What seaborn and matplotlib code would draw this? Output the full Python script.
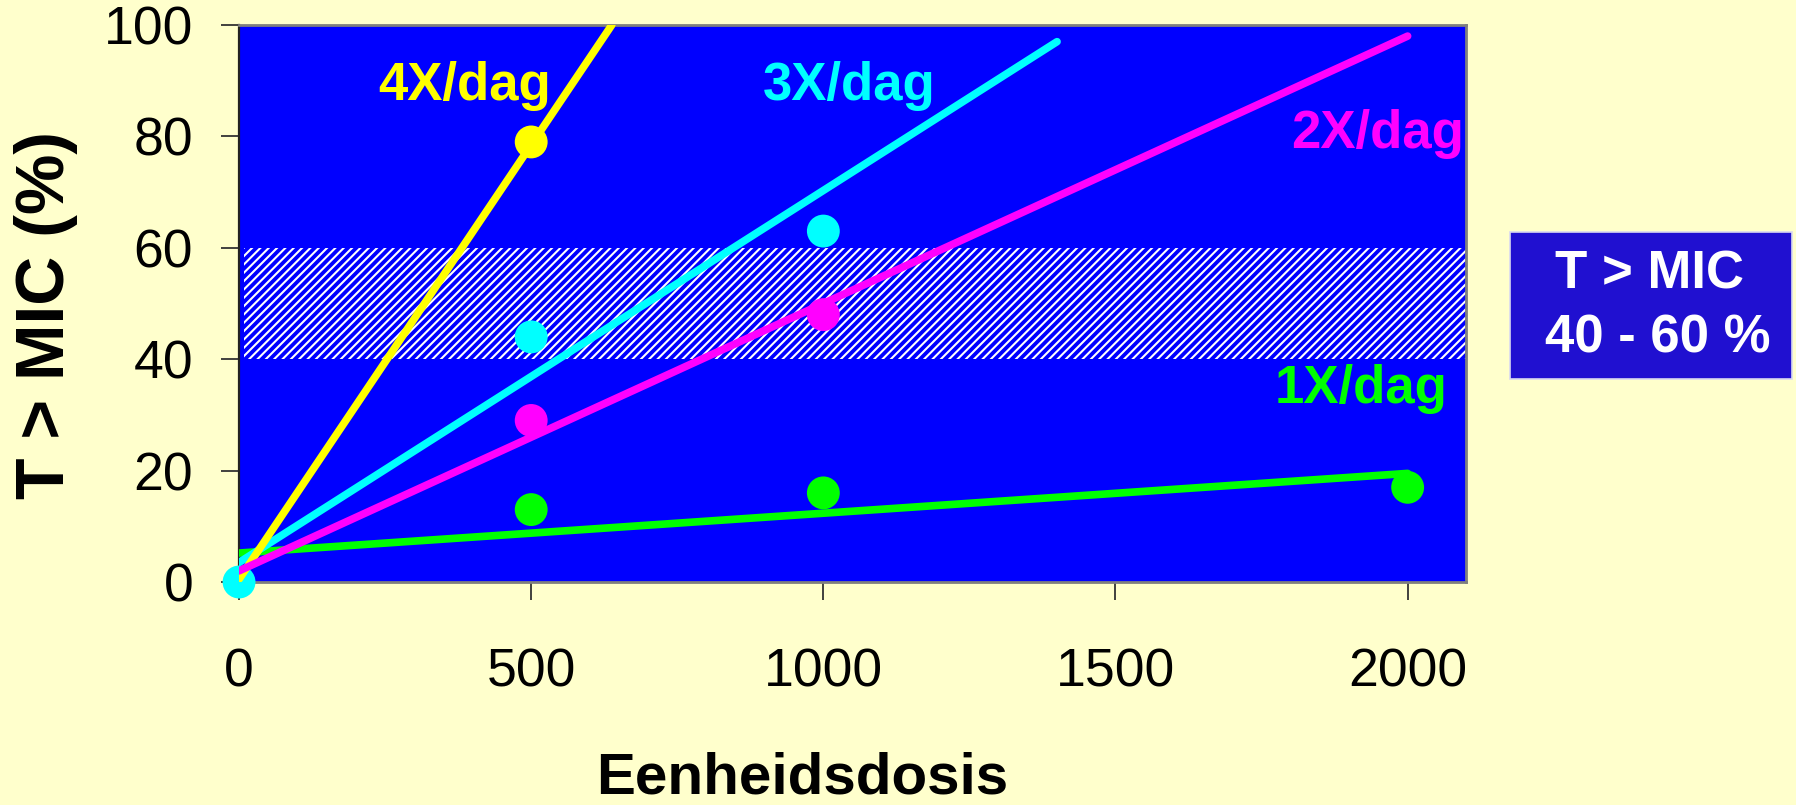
import matplotlib
matplotlib.use("Agg")
import matplotlib.pyplot as plt
import matplotlib.patches as mpatches
import pandas as pd
import seaborn as sns

# Dosing regimens and their colours
regimens = ["1X/dag", "2X/dag", "3X/dag", "4X/dag"]
regimen_colors = ["#00FF00", "#FF00FF", "#00FFFF", "#FFFF00"]

# Observed T > MIC (%) per unit dose
point_regimen = ["1X/dag", "1X/dag", "1X/dag", "2X/dag", "2X/dag",
                 "3X/dag", "3X/dag", "3X/dag", "4X/dag"]
point_dose = [500, 1000, 2000, 500, 1000, 0, 500, 1000, 500]
point_tmic = [13, 16, 17, 29, 48, 0, 44, 63, 79]

# Fitted trend lines: value at dose 0 and at the last drawn dose
trend_dose_end = [2000, 2000, 1400, 638]
trend_tmic_start = [5.2, 2.0, 3.5, 0.5]
trend_tmic_end = [19.5, 98.0, 97.0, 100.0]

# Target window for T > MIC
target_low, target_high = 40, 60

x_ticks = [0, 500, 1000, 1500, 2000]
y_ticks = [0, 20, 40, 60, 80, 100]

# Label anchors (dose, T > MIC) for the regimen names
label_dose = [1772, 1801, 896, 238]
label_tmic = [34.6, 80.4, 89.0, 89.0]

sns.set_style("ticks")
plt.rcParams["font.family"] = ["Liberation Sans", "DejaVu Sans"]
plt.rcParams["text.color"] = "black"
plt.rcParams["hatch.linewidth"] = 1.5
plt.rcParams["hatch.color"] = "white"

bg = "#FFFFCC"
fig = plt.figure(figsize=(17.96, 8.05), dpi=100, facecolor=bg)
ax = fig.add_axes([0.1331, 0.277, 0.6832, 0.692])
ax.set_facecolor("#0000FF")

palette = dict(zip(regimens, regimen_colors))

# Target band
ax.axhspan(target_low, target_high, xmin=0.004, xmax=1.0, facecolor="#0000FF",
           edgecolor="white", hatch="////", linewidth=0, zorder=1)

# Observed points
pts = pd.DataFrame({"dose": point_dose, "tmic": point_tmic, "regimen": point_regimen})
sns.scatterplot(data=pts, x="dose", y="tmic", hue="regimen", palette=palette,
                s=560, linewidth=0, legend=False, ax=ax, zorder=3, clip_on=False)

# Trend lines
rows = []
for r, xe, ys, ye in zip(regimens, trend_dose_end, trend_tmic_start, trend_tmic_end):
    rows.append({"regimen": r, "dose": 0, "tmic": ys})
    rows.append({"regimen": r, "dose": xe, "tmic": ye})
trend = pd.DataFrame(rows)
for r in ["1X/dag", "3X/dag", "4X/dag", "2X/dag"]:
    sub = trend[trend["regimen"] == r]
    sns.lineplot(data=sub, x="dose", y="tmic", color=palette[r], linewidth=5.5,
                 ax=ax, zorder=4, estimator=None, sort=False)

for r, lx, ly in zip(regimens, label_dose, label_tmic):
    ax.text(lx, ly, r, color=palette[r], fontsize=38, fontweight="bold",
            ha="left", va="center", zorder=5)

ax.set_xlim(0, 2100)
ax.set_ylim(0, 100)
ax.set_xticks(x_ticks)
ax.set_yticks(y_ticks)
ax.set_xticklabels([str(v) for v in x_ticks])
ax.set_yticklabels([str(v) for v in y_ticks])
ax.set_xlabel("")
ax.set_ylabel("")
ax.tick_params(axis="both", labelsize=38.5, length=13, width=1.3, color="#333333",
               labelcolor="black", direction="out")
ax.tick_params(axis="x", pad=34)
ax.tick_params(axis="y", pad=20)

for side in ["top", "right", "bottom"]:
    ax.spines[side].set_color("#7F7F7F")
    ax.spines[side].set_linewidth(2)
    ax.spines[side].set_visible(True)
ax.spines["left"].set_color("#222222")
ax.spines["left"].set_linewidth(1.6)

fig.text(0.4465, 0.0335, "Eenheidsdosis", fontsize=42, fontweight="bold",
         color="black", ha="center", va="center")
fig.text(0.0256, 0.609, "T > MIC (%)", fontsize=49, fontweight="bold",
         color="black", ha="center", va="center", rotation=90)

# Target window box
box = mpatches.Rectangle((0.8408, 0.5292), 0.157, 0.1826, transform=fig.transFigure,
                         facecolor="#2010D0", edgecolor="#D8D8F0", linewidth=1.2)
fig.patches.append(box)
fig.text(0.9187, 0.6584, "T > MIC", fontsize=38, fontweight="bold", color="white",
         ha="center", va="center")
fig.text(0.9232, 0.5801, "40 - 60 %", fontsize=38, fontweight="bold", color="white",
         ha="center", va="center")

fig.savefig("out.png", dpi=100, facecolor=bg)
